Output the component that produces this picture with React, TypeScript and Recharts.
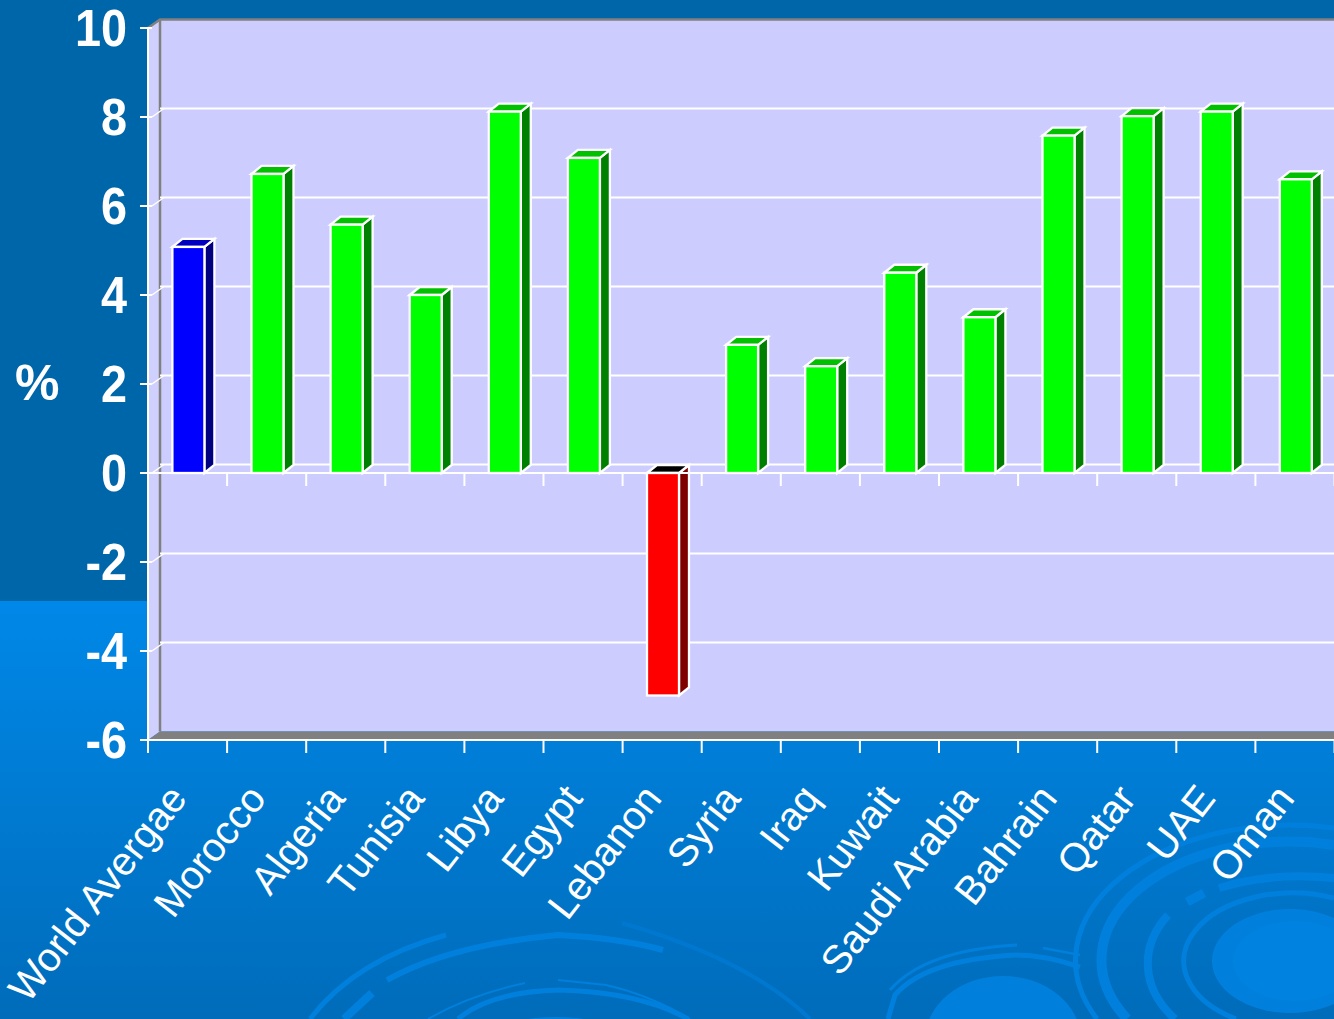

import React from 'react';
import { BarChart, Bar, XAxis, YAxis, CartesianGrid, ReferenceArea, ReferenceLine } from 'recharts';

const countries = ['World Avergae','Morocco','Algeria','Tunisia','Libya','Egypt','Lebanon','Syria','Iraq','Kuwait','Saudi Arabia','Bahrain','Qatar','UAE','Oman'];
const values = [5.08,6.72,5.58,4.0,8.12,7.08,-5.0,2.88,2.4,4.5,3.5,7.58,8.02,8.12,6.6];
const frontColors = ['#0000FF','#00FF00','#00FF00','#00FF00','#00FF00','#00FF00','#FF0000','#00FF00','#00FF00','#00FF00','#00FF00','#00FF00','#00FF00','#00FF00','#00FF00'];
const topColors = ['#0000C0','#00C000','#00C000','#00C000','#00C000','#00C000','#000000','#00C000','#00C000','#00C000','#00C000','#00C000','#00C000','#00C000','#00C000'];
const sideColors = ['#000080','#008000','#008000','#008000','#008000','#008000','#800000','#008000','#008000','#008000','#008000','#008000','#008000','#008000','#008000'];
const yTicks = [-6,-4,-2,0,2,4,6,8,10];

const rows = countries.map((name, i) => ({ name, value: values[i], front: frontColors[i], top: topColors[i], side: sideColors[i] }));

const DX = 12, DY = 8.5;
const BDX = 10, BDY = 8;
const font = '"Liberation Sans", Arial, sans-serif';

function Box(props: any) {
  const { x, y, width, height, payload } = props;
  const yA = Math.min(y, y + height), yB = Math.max(y, y + height);
  const l = x + 0.4, r = l + width;
  const stroke = { stroke: '#fff', strokeWidth: 2.3, strokeLinejoin: 'miter' as const };
  return (
    <g>
      <polygon points={`${r},${yA} ${r + BDX},${yA - BDY} ${r + BDX},${yB - BDY} ${r},${yB}`} fill={payload.side} {...stroke} />
      <polygon points={`${l},${yA} ${l + BDX},${yA - BDY} ${r + BDX},${yA - BDY} ${r},${yA}`} fill={payload.top} {...stroke} />
      <rect x={l} y={yA} width={width} height={yB - yA} fill={payload.front} {...stroke} />
    </g>
  );
}

function Frame(props: any) {
  const { x, y, width, height } = props;
  const b = y + height;
  return (
    <g>
      <rect x={x + DX} y={y - DY} width={width} height={height} fill="#CCCCFF" />
      <polygon points={`${x},${y} ${x + DX},${y - DY} ${x + DX},${b - DY} ${x},${b}`} fill="#D0D0FF" />
      <polygon points={`${x},${b} ${x + DX},${b - DY} ${x + width + DX},${b - DY} ${x + width},${b}`} fill="#808080" />
      <polyline points={`${x},${y} ${x + DX},${y - DY} ${x + width + DX},${y - DY}`} fill="none" stroke="#808080" strokeWidth={2.5} />
      <line x1={x + DX} y1={y - DY} x2={x + DX} y2={b - DY} stroke="#808080" strokeWidth={2.5} />
    </g>
  );
}

function GridLine(props: any) {
  const { x1, x2, y1, y2, index } = props;
  if (index === 0 || index === yTicks.length - 1) return <g />;
  return <line x1={x1 + DX} y1={y1 - DY} x2={x2 + DX} y2={y2 - DY} stroke="#fff" strokeWidth={2} />;
}

function ZeroLine(props: any) {
  const { x1, x2, y1 } = props.viewBox ? { x1: props.viewBox.x, x2: props.viewBox.x + props.viewBox.width, y1: props.viewBox.y } : props;
  const step = (x2 - x1) / countries.length;
  return (
    <g stroke="#fff" strokeWidth={2}>
      <line x1={x1} x2={x2} y1={y1} y2={y1} />
      {countries.map((_, i) => <line key={i} x1={x1 + step * (i + 1)} x2={x1 + step * (i + 1)} y1={y1} y2={y1 + 13} />)}
    </g>
  );
}

function BottomTicks(props: any) {
  const { x1, x2, y1 } = props.viewBox ? { x1: props.viewBox.x, x2: props.viewBox.x + props.viewBox.width, y1: props.viewBox.y } : props;
  const step = (x2 - x1) / countries.length;
  return (
    <g stroke="#fff" strokeWidth={2}>
      <line x1={x1} x2={x2} y1={y1} y2={y1} />
      {[...countries, ''].map((_, i) => <line key={i} x1={x1 + step * i} x2={x1 + step * i} y1={y1} y2={y1 + 13} />)}
    </g>
  );
}

function YTick(props: any) {
  const { x, y, payload } = props;
  return (
    <g>
      <line x1={x} x2={x + 12} y1={y} y2={y} stroke="#fff" strokeWidth={2} />
      {payload.value === 10 || payload.value === -6 ? null : <line x1={x + 12} x2={x + 24} y1={y} y2={y - DY} stroke="#fff" strokeWidth={1.5} />}
      <text transform={`translate(${x - 13},${y + 18}) scale(0.9,1)`} textAnchor="end" fill="#fff" fontFamily={font} fontWeight="bold" fontSize={52}>{payload.value}</text>
    </g>
  );
}

function XTick(props: any) {
  const { x, payload } = props;
  return (
    <text transform={`translate(${x + 1},799) rotate(-52)`} textAnchor="end" fill="#fff" fontFamily={font} fontSize={40}>{payload.value}</text>
  );
}

function Rings() {
  const c = '#0080DC';
  return (
    <svg width={1334} height={1019} style={{ position: 'absolute', left: 0, top: 0 }}>
      <defs>
        <linearGradient id="bg" x1="0" y1="0" x2="0" y2="1">
          <stop offset="0" stopColor="#0088E8" />
          <stop offset="1" stopColor="#006CBA" />
        </linearGradient>
      </defs>
      <rect x={0} y={0} width={1334} height={601} fill="#0066AA" />
      <rect x={0} y={601} width={1334} height={418} fill="url(#bg)" />
      <g fill="none" stroke={c}>
        <ellipse cx={1290} cy={961} rx={78} ry={52} fill={c} stroke="none" />
        <ellipse cx={1295} cy={961} rx={62} ry={40} fill="#0082E0" stroke="none" />
        <path d="M1236,1019 A109,68 0 0 1 1334,898" strokeWidth={5} />
        <path d="M1168,915 A128,90 0 0 0 1175,1019" strokeWidth={8} />
        <path d="M1187,902 L1204,893" strokeWidth={9} />
        <path d="M1219,888 Q1270,872 1334,878" strokeWidth={8} />
        <path d="M1127,1019 A188,118 0 0 1 1334,845" strokeWidth={10} />
        <path d="M1097,1019 A215,135 0 0 1 1334,828" strokeWidth={5} />
        <path d="M1043,948 L1080,955" strokeWidth={2.5} />
        <path d="M888,1019 L895,995 Q925,960 1015,955 Q1045,955 1080,967" strokeWidth={5} />
        <path d="M890,990 Q925,950 1017,945" strokeWidth={3} />
        <ellipse cx={1003} cy={1040} rx={78} ry={64} fill={c} stroke="none" />
        <path d="M310,1019 Q355,960 446,935" strokeWidth={5} />
        <path d="M344,1019 L372,993" strokeWidth={8} />
        <path d="M387,980 Q450,945 558,935 Q620,938 663,950" strokeWidth={6} />
        <path d="M458,1019 Q490,992 558,990 Q640,992 688,1019" strokeWidth={5} />
        <path d="M428,1019 Q470,995 525,983" strokeWidth={2} />
        <path d="M558,980 L606,985 Q650,995 690,1019" strokeWidth={2} />
        <path d="M622,923 Q750,960 810,1019" strokeWidth={4} stroke="#0078D0" />
        <ellipse cx={556} cy={1035} rx={60} ry={18} fill={c} stroke="none" />
      </g>
    </svg>
  );
}

export default function App() {
  return (
    <div style={{ position: 'absolute', left: 0, top: 0, width: 1334, height: 1019, overflow: 'hidden' }}>
      <Rings />
      <div style={{ position: 'absolute', left: 0, top: 0 }}>
        <BarChart width={1340} height={1019} data={rows} margin={{ top: 28, right: 5.5, bottom: 0, left: 0 }} barSize={32}>
          <ReferenceArea x1={countries[0]} x2={countries[countries.length - 1]} y1={-6} y2={10} shape={<Frame />} ifOverflow="visible" zIndex={-200} />
          <CartesianGrid vertical={false} horizontal={(p: any) => <GridLine {...p} />} />
          <XAxis dataKey="name" height={279} interval={0} axisLine={false} tickLine={false} tick={<XTick />} />
          <YAxis width={148} domain={[-6, 10]} ticks={yTicks} interval={0} axisLine={{ stroke: '#fff', strokeWidth: 2 }} tickLine={false} orientation="left"
            tick={<YTick />}
            label={{ value: '%', position: 'insideLeft', offset: 15, dy: -2, fill: '#fff', fontSize: 50, fontWeight: 'bold', fontFamily: font }} />
          <Bar dataKey="value" shape={<Box />} isAnimationActive={false} />
          <ReferenceLine y={0} shape={<ZeroLine />} />
          <ReferenceLine y={-6} shape={<BottomTicks />} />
        </BarChart>
      </div>
    </div>
  );
}
